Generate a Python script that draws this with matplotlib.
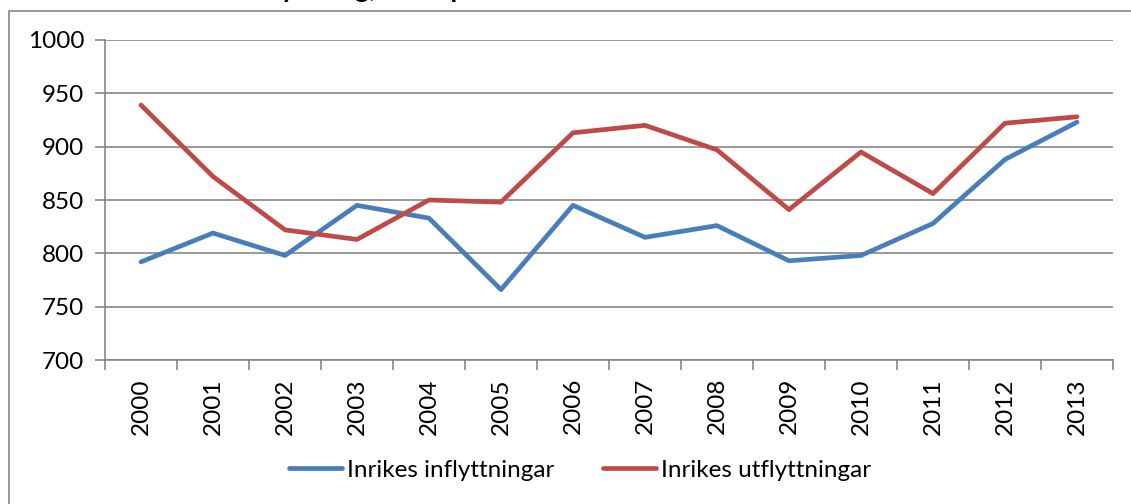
import matplotlib
matplotlib.use("Agg")
import matplotlib.pyplot as plt
from matplotlib.patches import Rectangle

years = ["2000", "2001", "2002", "2003", "2004", "2005", "2006", "2007",
         "2008", "2009", "2010", "2011", "2012", "2013"]
inflyttningar = [792, 819, 798, 845, 833, 766, 845, 815, 826, 793, 798, 828, 888, 923]
utflyttningar = [939, 872, 822, 813, 850, 848, 913, 920, 897, 841, 895, 856, 922, 928]
yticks = [700, 750, 800, 850, 900, 950, 1000]
title = "Inrikes omflyttning, antal personer"

plt.rcParams['font.family'] = ['Lato', 'DejaVu Sans']

W, H = 1131, 504
FS = 17.5
fig = plt.figure(figsize=(W / 100, H / 100), dpi=100)

# outer chart border
fig.add_artist(Rectangle((9 / W, -0.1), 1.2, 1 - 11 / H + 0.1, transform=fig.transFigure,
                         fill=False, edgecolor='#868686', linewidth=1.2))

# clipped title at top
fig.text(135 / W, 1 + 2.5 / H, title, fontsize=20, fontweight='bold', va='baseline', ha='left')

ax = fig.add_axes([105 / W, (H - 360) / H, 1008 / W, 320 / H])
x = list(range(len(years)))
grid_c = '#868686'
ax.plot(x, inflyttningar, color='#4A7EBB', linewidth=3.4, solid_capstyle='round',
        solid_joinstyle='round', label='Inrikes inflyttningar', zorder=3)
ax.plot(x, utflyttningar, color='#BE4B48', linewidth=3.4, solid_capstyle='round',
        solid_joinstyle='round', label='Inrikes utflyttningar', zorder=3)

ax.set_xlim(-0.5, len(years) - 0.5)
ax.set_ylim(700, 1000)
ax.set_yticks(yticks)
ax.set_yticklabels([str(v) for v in yticks], fontsize=FS)
ax.set_xticks(x)
ax.set_xticklabels(years, rotation=90, fontsize=FS)
ax.set_xticks([i - 0.5 for i in range(len(years) + 1)], minor=True)
ax.tick_params(axis='x', which='major', length=0, pad=13)
ax.tick_params(axis='x', which='minor', length=7, color=grid_c, width=1.2)
ax.tick_params(axis='y', length=7, color=grid_c, width=1.2, pad=8)
ax.yaxis.grid(True, color=grid_c, linewidth=1.2)
ax.set_axisbelow(True)
for s in ['top', 'right']:
    ax.spines[s].set_visible(False)
for s in ['left', 'bottom']:
    ax.spines[s].set_color(grid_c)
    ax.spines[s].set_linewidth(1.2)

fig.legend(loc='center', bbox_to_anchor=(580 / W, 1 - 470 / H), ncol=2, frameon=False,
           fontsize=FS, handlelength=2.2, handletextpad=0.2, columnspacing=2.0)

fig.savefig("out.png", dpi=100)
